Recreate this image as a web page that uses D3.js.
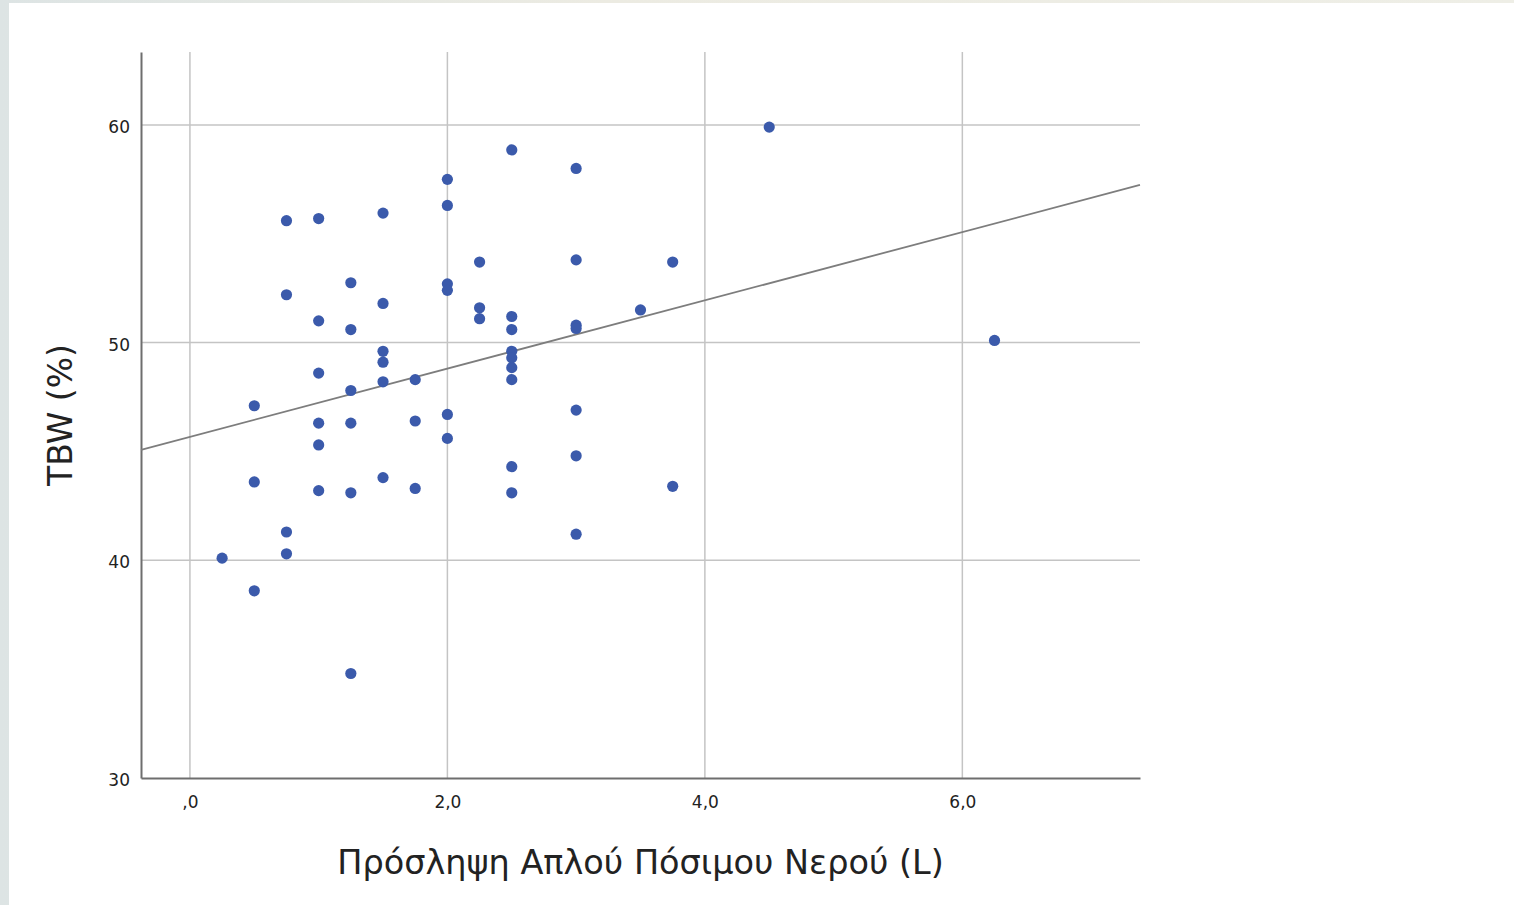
<!DOCTYPE html>
<html>
<head>
<meta charset="utf-8">
<script src="https://cdn.jsdelivr.net/npm/d3@7"></script>
<style>
  body { margin: 0; background: linear-gradient(90deg, #dde4e4, #ecebe2 40%, #eeeee6); }
  svg { display: block; }
</style>
</head>
<body>
<svg id="chart" width="1514" height="905"></svg>
<script>
// water intake (L) and TBW (%)
let waterL = [
  4.5, 6.25, 2.5, 3.0, 2.0, 2.0, 0.75, 1.0, 1.5,
  1.25, 0.75, 1.5, 1.0, 1.25, 2.25, 3.0, 3.75,
  2.0, 2.0, 2.25, 2.25, 2.5, 2.5, 3.5, 3.0, 3.0,
  1.5, 1.5, 1.5, 1.75, 1.0, 1.25, 0.5,
  2.5, 2.5, 2.5, 2.5,
  2.0, 2.0, 1.0, 1.25, 1.75, 1.0, 3.0, 3.0,
  2.5, 2.5, 3.75, 0.5, 1.5, 1.75, 1.0, 1.25,
  3.0, 0.75, 0.75, 0.25, 0.5, 1.25
]
let tbw = [
  59.9, 50.1, 58.85, 58.0, 57.5, 56.3, 55.6, 55.7, 55.95,
  52.75, 52.2, 51.8, 51.0, 50.6, 53.7, 53.8, 53.7,
  52.7, 52.4, 51.6, 51.1, 51.2, 50.6, 51.5, 50.8, 50.65,
  49.6, 49.1, 48.2, 48.3, 48.6, 47.8, 47.1,
  49.6, 49.3, 48.85, 48.3,
  46.7, 45.6, 46.3, 46.3, 46.4, 45.3, 46.9, 44.8,
  44.3, 43.1, 43.4, 43.6, 43.8, 43.3, 43.2, 43.1,
  41.2, 41.3, 40.3, 40.1, 38.6, 34.8
]

let xTicks = [0, 2, 4, 6]
let yTicks = [30, 40, 50, 60]
let fitLine = { intercept: 45.67, slope: 1.568 }

let xTitle = 'Πρόσληψη Απλού Πόσιμου Νερού (L)'
let yTitle = 'TBW (%)'

let svg = d3.select('#chart')
svg.append('rect')
  .attr('x', 9).attr('y', 3)
  .attr('width', 1505).attr('height', 902)
  .attr('fill', '#ffffff')

let plotLeft = 141, plotRight = 1140, plotTop = 52, plotBottom = 778

let x = d3.scaleLinear().domain([-0.38, 7.38]).range([plotLeft, plotRight])
let y = d3.scaleLinear().domain([30, 63.35]).range([plotBottom, plotTop])

let font = '"DejaVu Sans", sans-serif'

// grid
svg.selectAll('.vgrid')
  .data(xTicks)
  .enter()
  .append('line')
  .attr('x1', d => x(d)).attr('x2', d => x(d))
  .attr('y1', plotTop).attr('y2', plotBottom)
  .attr('stroke', '#c4c4c4')
  .attr('stroke-width', 1.5)

svg.selectAll('.hgrid')
  .data(yTicks.filter(d => d > 30))
  .enter()
  .append('line')
  .attr('x1', plotLeft).attr('x2', plotRight)
  .attr('y1', d => y(d)).attr('y2', d => y(d))
  .attr('stroke', '#c4c4c4')
  .attr('stroke-width', 1.5)

// axes
let xAxis = svg.append('g')
  .attr('transform', 'translate(0,' + plotBottom + ')')
  .call(d3.axisBottom(x).tickValues(xTicks).tickSize(0).tickPadding(18)
    .tickFormat(d => d === 0 ? ',0' : d3.format('.1f')(d).replace('.', ',')))
xAxis.select('.domain').attr('stroke', '#6e6e6e').attr('stroke-width', 2)
xAxis.selectAll('text').attr('font-family', font).attr('font-size', 17).attr('fill', '#222')

let yAxis = svg.append('g')
  .attr('transform', 'translate(' + plotLeft + ',0)')
  .call(d3.axisLeft(y).tickValues(yTicks).tickSize(0).tickPadding(11))
yAxis.select('.domain').attr('stroke', '#6e6e6e').attr('stroke-width', 2)
yAxis.selectAll('text').attr('font-family', font).attr('font-size', 17).attr('fill', '#222')
  .attr('dy', '0.45em')

// fit line
let xd = x.domain()
svg.append('line')
  .attr('x1', x(xd[0])).attr('y1', y(fitLine.intercept + fitLine.slope * xd[0]))
  .attr('x2', x(xd[1])).attr('y2', y(fitLine.intercept + fitLine.slope * xd[1]))
  .attr('stroke', '#7d7d7d')
  .attr('stroke-width', 1.8)

// points
svg.selectAll('circle.pt')
  .data(waterL.map((w, i) => [w, tbw[i]]))
  .enter()
  .append('circle')
  .attr('class', 'pt')
  .attr('cx', d => x(d[0]))
  .attr('cy', d => y(d[1]))
  .attr('r', 5.6)
  .attr('fill', '#3b5aab')

// titles
svg.append('text')
  .attr('x', (plotLeft + plotRight) / 2)
  .attr('y', 874)
  .attr('text-anchor', 'middle')
  .attr('font-family', font)
  .attr('font-size', 33.5)
  .attr('fill', '#222')
  .text(xTitle)

svg.append('text')
  .attr('transform', 'translate(72,' + ((plotTop + plotBottom) / 2) + ') rotate(-90)')
  .attr('text-anchor', 'middle')
  .attr('font-family', font)
  .attr('font-size', 33)
  .attr('fill', '#222')
  .text(yTitle)
</script>
</body>
</html>
